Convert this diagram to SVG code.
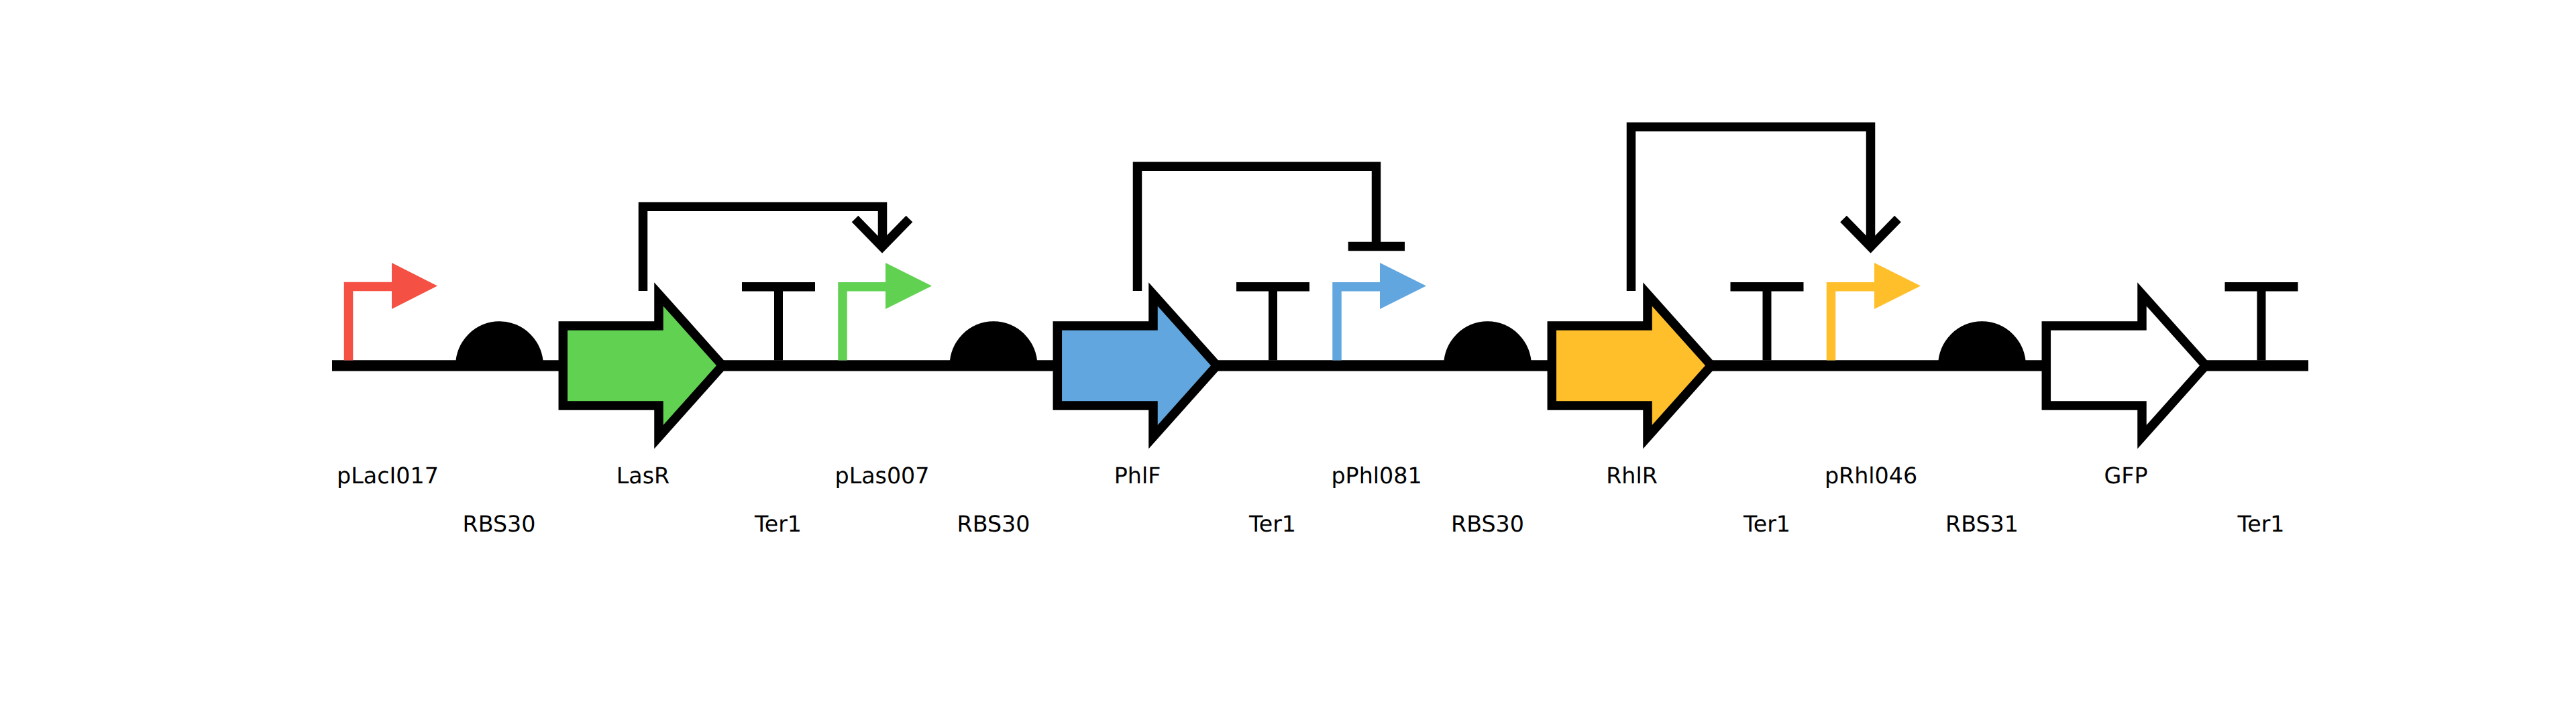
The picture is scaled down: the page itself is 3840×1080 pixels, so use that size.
<svg xmlns="http://www.w3.org/2000/svg" width="3840" height="1080" viewBox="0 0 3840 1080">
<defs>
<style>
.bb{stroke:#000;stroke-width:16.3;fill:none}
.cds{stroke:#000;stroke-width:13.5;stroke-linejoin:miter;stroke-miterlimit:10}
.rbs{fill:#000}
.ter{stroke:#000;fill:none}
.pro{fill:none;stroke-width:13.5;stroke-linejoin:miter}
.reg{fill:none;stroke:#000;stroke-width:13.5;stroke-linejoin:miter}
text{font-family:"DejaVu Sans",sans-serif;font-size:33.3px;fill:#000;text-anchor:middle;text-rendering:geometricPrecision}
</style>
</defs>
<rect width="3840" height="1080" fill="#fff"/>
<g id="backbone"><line class="bb" x1="495" y1="545.3" x2="3441" y2="545.3"/></g>
<g id="pLacI017"><path class="pro" stroke="#F55044" d="M519.5 537.5V427.5H590"/><path fill="#F55044" d="M584 392L652 426.5L584 461Z"/><text x="578" y="721">pLacI017</text></g>
<g id="RBS30a"><path class="rbs" d="M679 545.3A65.5 66 0 0 1 810 545.3Z"/><text x="744" y="793">RBS30</text></g>
<g id="LasR"><path class="cds" fill="#61D152" d="M839.3 486H982V438.9L1077 545.3L982 651.7V605H839.3Z"/><text x="958.5" y="721">LasR</text></g>
<g id="Ter1a"><path class="ter" stroke-width="13" d="M1160.5 537.5V427"/><path class="ter" stroke-width="13.5" d="M1106 427.7H1215"/><text x="1160" y="793">Ter1</text></g>
<g id="pLas007"><path class="pro" stroke="#61D152" d="M1256 537.5V427.7H1327"/><path fill="#61D152" d="M1320 392L1389 426.5L1320 461Z"/><text x="1315" y="721">pLas007</text></g>
<g id="RBS30b"><path class="rbs" d="M1415.5 545.3A65.5 66 0 0 1 1546.5 545.3Z"/><text x="1481" y="793">RBS30</text></g>
<g id="PhlF"><path class="cds" fill="#61A6DE" d="M1576.3 486H1719V438.9L1814 545.3L1719 651.7V605H1576.3Z"/><text x="1695.5" y="721">PhlF</text></g>
<g id="Ter1b"><path class="ter" stroke-width="13" d="M1897.5 537.5V427"/><path class="ter" stroke-width="13.5" d="M1843 427.7H1952"/><text x="1897" y="793">Ter1</text></g>
<g id="pPhl081"><path class="pro" stroke="#61A6DE" d="M1993 537.5V427.7H2064"/><path fill="#61A6DE" d="M2057 392L2126 426.5L2057 461Z"/><text x="2052" y="721">pPhl081</text></g>
<g id="RBS30c"><path class="rbs" d="M2152 545.3A65.5 66 0 0 1 2283 545.3Z"/><text x="2217.5" y="793">RBS30</text></g>
<g id="RhlR"><path class="cds" fill="#FFBF2B" d="M2313.3 486H2456V438.9L2551 545.3L2456 651.7V605H2313.3Z"/><text x="2432.5" y="721">RhlR</text></g>
<g id="Ter1c"><path class="ter" stroke-width="13" d="M2634 537.5V427"/><path class="ter" stroke-width="13.5" d="M2579.5 427.7H2688.5"/><text x="2634" y="793">Ter1</text></g>
<g id="pRhl046"><path class="pro" stroke="#FFBF2B" d="M2729.5 537.5V427.7H2801"/><path fill="#FFBF2B" d="M2794 392L2863 426.5L2794 461Z"/><text x="2789" y="721">pRhl046</text></g>
<g id="RBS31"><path class="rbs" d="M2889 545.3A65.5 66 0 0 1 3020 545.3Z"/><text x="2954.5" y="793">RBS31</text></g>
<g id="GFP"><path class="cds" fill="#fff" d="M3050.3 486H3193V438.9L3288 545.3L3193 651.7V605H3050.3Z"/><text x="3169" y="721">GFP</text></g>
<g id="Ter1d"><path class="ter" stroke-width="13" d="M3371 537.5V427"/><path class="ter" stroke-width="13.5" d="M3316.5 427.7H3425.5"/><text x="3370.5" y="793">Ter1</text></g>
<g id="connectors">
<path class="reg" d="M958.5 434V308.2H1315.5V367"/><path class="reg" d="M1274.5 326.5L1315 368L1355.5 326.5"/>
<path class="reg" d="M1695.5 434V248.2H2051.5V367"/><path class="reg" d="M2009.7 367.5H2094"/>
<path class="reg" d="M2431.5 434V189.2H2788.5V367"/><path class="reg" d="M2748 326.5L2788.5 368L2829 326.5"/>
</g>
</svg>
